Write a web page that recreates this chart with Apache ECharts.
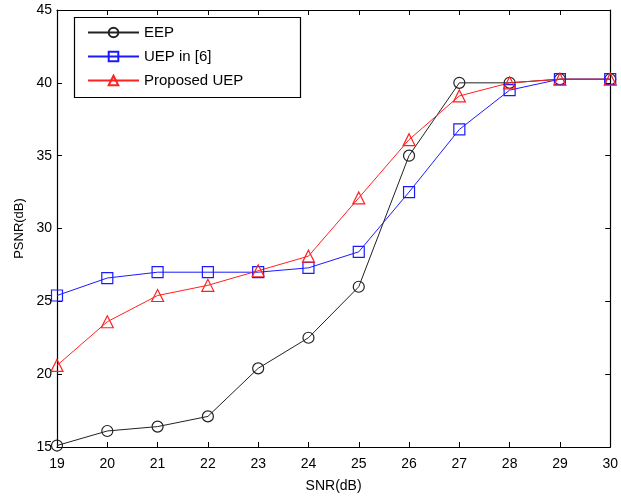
<!DOCTYPE html>
<html><head><meta charset="utf-8">
<script src="https://cdn.jsdelivr.net/npm/echarts@6/dist/echarts.min.js"></script>
<style>html,body{margin:0;padding:0;background:#fff}#c{width:621px;height:498px}</style>
</head><body><div id="c"></div>
<script>
const snr = [19,20,21,22,23,24,25,26,27,28,29,30];
const eep = [15.1,16.1,16.4,17.1,20.4,22.5,26.0,35.0,40.0,40.0,40.25,40.25];
const uep6 = [25.4,26.6,27.0,27.0,27.0,27.3,28.4,32.5,36.8,39.5,40.25,40.25];
const proposed = [20.6,23.6,25.4,26.1,27.1,28.1,32.1,36.1,39.1,40.0,40.25,40.25];
const names = ['EEP','UEP in [6]','Proposed UEP'];
const yTicks = [15,20,25,30,35,40,45];

const font = 'Liberation Sans, Arial, sans-serif';
const chart = echarts.init(document.getElementById('c'));
function pairs(arr){ return snr.map((x,i)=>[x,arr[i]]); }
function mk(name, data, color, symbol, size){
  return {
    name, type:'line', data:pairs(data), symbol, symbolSize:size,
    showAllSymbol:true,
    lineStyle:{color, width:1},
    itemStyle:{color:'rgba(255,255,255,0)', borderColor:color, borderWidth:1.2},
    emphasis:{disabled:true}, animation:false
  };
}
const axisCommon = {
  axisLine:{show:true, lineStyle:{color:'#000', width:1.2}},
  axisTick:{show:true, inside:true, length:5, lineStyle:{color:'#000'}},
  splitLine:{show:false}
};
chart.setOption({
  animation:false,
  backgroundColor:'#fff',
  textStyle:{fontFamily:font},
  grid:{left:57, right:8, top:10, bottom:51},
  legend:{
    orient:'vertical', left:82, top:20, itemWidth:51, itemHeight:12, itemGap:9,
    data:names,
    textStyle:{fontFamily:font, fontSize:15, color:'#000'}
  },
  graphic:[{type:'rect', left:72, top:15, shape:{width:226, height:80},
    style:{fill:'none', stroke:'#000', lineWidth:1.2}, z:-1}],
  xAxis:[
    Object.assign({type:'value', min:19, max:30, interval:1, position:'bottom',
      axisLabel:{fontFamily:font, fontSize:14, color:'#000', margin:10},
      name:'SNR(dB)', nameLocation:'middle', nameGap:32,
      nameTextStyle:{fontFamily:font, fontSize:14, color:'#000'}}, axisCommon),
    Object.assign({type:'value', min:19, max:30, interval:1, position:'top',
      axisLabel:{show:false}}, axisCommon)
  ],
  yAxis:[
    Object.assign({type:'value', min:15, max:45, interval:5, position:'left',
      axisLabel:{fontFamily:font, fontSize:14, color:'#000', margin:5,
        formatter:v=>yTicks.includes(v)?String(v):''},
      name:'PSNR(dB)', nameLocation:'middle', nameGap:31, nameRotate:90,
      nameTextStyle:{fontFamily:font, fontSize:13, color:'#000'}}, axisCommon),
    Object.assign({type:'value', min:15, max:45, interval:5, position:'right',
      axisLabel:{show:false}}, axisCommon)
  ],
  series:[
    mk(names[0], eep, '#222222', 'circle', 11),
    mk(names[1], uep6, '#1a1aff', 'rect', 11),
    mk(names[2], proposed, '#ff2020', 'triangle', 12)
  ]
});
</script></body></html>
